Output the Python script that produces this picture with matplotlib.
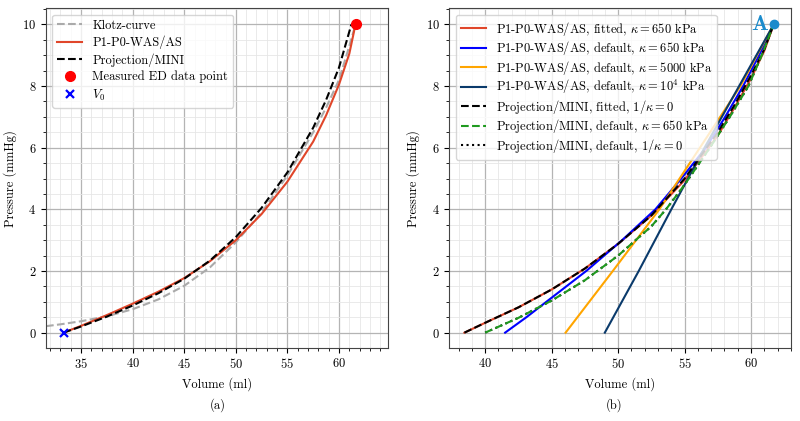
import numpy as np
import matplotlib
matplotlib.use("Agg")
import matplotlib.pyplot as plt
from matplotlib.ticker import MultipleLocator

plt.rcParams["font.family"] = "serif"
plt.rcParams["font.serif"] = ["cmr10", "DejaVu Serif"]
plt.rcParams["mathtext.fontset"] = "cm"
plt.rcParams["axes.formatter.use_mathtext"] = True
plt.rcParams["font.size"] = 9

# %% data, panel (a)
klotz_v = [31.6, 33.0, 35.0, 37.5, 40.0, 42.5, 45.0, 47.5, 50.0, 52.5, 55.0, 57.5, 58.75, 60.0, 61.0, 61.6]
klotz_p = [0.21, 0.27, 0.37, 0.53, 0.76, 1.08, 1.52, 2.12, 2.93, 3.9, 5.1, 6.5, 7.3, 8.2, 9.3, 10.0]

p1p0_v = [33.3, 35.0, 37.5, 40.0, 42.5, 45.0, 47.5, 50.0, 52.5, 55.0, 57.5, 58.75, 60.0, 61.0, 61.6]
p1p0_p = [0.0, 0.22, 0.57, 0.94, 1.33, 1.77, 2.32, 3.0, 3.85, 4.9, 6.2, 7.05, 8.05, 9.05, 10.0]

mini_v = [33.3, 35.0, 37.5, 40.0, 42.5, 45.0, 47.5, 50.0, 52.5, 55.0, 57.5, 58.75, 60.0, 61.2]
mini_p = [0.0, 0.2, 0.52, 0.88, 1.28, 1.75, 2.34, 3.1, 4.05, 5.2, 6.65, 7.55, 8.6, 10.0]

ed_point = (61.6, 10.0)
v0_point = (33.3, 0.0)

# %% data, panel (b)
fit_red_v = [38.44, 40.0, 42.5, 45.0, 47.5, 50.0, 52.5, 55.0, 57.5, 58.75, 60.0, 61.0, 61.7]
fit_red_p = [0.0, 0.32, 0.82, 1.4, 2.08, 2.88, 3.8, 4.95, 6.4, 7.3, 8.25, 9.15, 10.0]

def_blue_v = [41.5, 43.1, 44.6, 47.6, 50.3, 52.8, 54.75, 56.6, 58.05, 59.4, 60.6, 61.7]
def_blue_p = [0.0, 0.5, 1.0, 2.0, 3.0, 4.0, 5.0, 6.0, 7.0, 8.0, 9.0, 10.0]

def_orange_v = [46.05, 49.6, 53.1, 56.15, 59.2, 61.7]
def_orange_p = [0.0, 2.0, 4.0, 6.0, 8.0, 10.0]

def_navy_v = [49.0, 51.55, 54.0, 56.5, 59.1, 61.7]
def_navy_p = [0.0, 2.0, 4.0, 6.0, 8.0, 10.0]

fit_mini_v = [38.44, 40.0, 42.5, 45.0, 47.5, 50.0, 52.5, 55.0, 57.5, 58.75, 60.0, 61.0, 61.7]
fit_mini_p = [0.0, 0.32, 0.82, 1.4, 2.08, 2.88, 3.8, 5.0, 6.5, 7.38, 8.35, 9.2, 10.0]

def_green_v = [40.0, 42.5, 45.0, 47.5, 50.0, 52.5, 53.6, 55.0, 56.9, 58.4, 59.8, 60.8, 61.7]
def_green_p = [0.0, 0.48, 1.04, 1.7, 2.5, 3.45, 4.0, 4.8, 6.0, 7.0, 8.0, 9.0, 10.0]

def_dot_v = [40.0, 42.5, 45.0, 47.5, 50.0, 52.5, 53.6, 55.0, 56.9, 58.4, 59.8, 60.8, 61.7]
def_dot_p = [0.0, 0.48, 1.04, 1.7, 2.5, 3.45, 4.0, 4.8, 6.0, 7.0, 8.0, 9.0, 10.0]

point_a = (61.7, 10.0)

red = "#e0462a"


def style_axes(ax):
    ax.xaxis.set_major_locator(MultipleLocator(5))
    ax.xaxis.set_minor_locator(MultipleLocator(1))
    ax.yaxis.set_major_locator(MultipleLocator(2))
    ax.yaxis.set_minor_locator(MultipleLocator(0.5))
    ax.grid(which="major", color="#b4b4b4", linewidth=0.9)
    ax.grid(which="minor", color="#e6e6e6", linewidth=0.6)
    ax.set_axisbelow(True)
    for s in ax.spines.values():
        s.set_color("#444444")
    ax.set_xlabel("Volume (ml)")
    ax.set_ylabel("Pressure (mmHg)")
    ax.set_ylim(-0.49, 10.52)


fig = plt.figure(figsize=(8, 4.21), dpi=100)
ax1 = fig.add_axes([0.0575, 0.174, 0.4275, 0.806])
ax2 = fig.add_axes([0.5616, 0.174, 0.4271, 0.806])

# %% panel (a)
ax1.plot(klotz_v, klotz_p, "--", color="#aaaaaa", lw=1.5, label="Klotz-curve")
ax1.plot(p1p0_v, p1p0_p, "-", color=red, lw=1.5, label="P1-P0-WAS/AS")
ax1.plot(mini_v, mini_p, "--", color="black", lw=1.5, label="Projection/MINI")
ax1.plot(*ed_point, "o", color="red", ms=7, label="Measured ED data point", zorder=5)
ax1.plot(*v0_point, "x", color="blue", ms=6, mew=1.6, label="$V_0$", zorder=5)
style_axes(ax1)
ax1.set_xlim(31.6, 64.75)
ax1.legend(loc="upper left", labelspacing=0.32)

# %% panel (b)
ax2.plot(fit_red_v, fit_red_p, "-", color=red, lw=1.5,
         label=r"P1-P0-WAS/AS, fitted, $\kappa = 650$ kPa")
ax2.plot(def_blue_v, def_blue_p, "-", color="blue", lw=1.5,
         label=r"P1-P0-WAS/AS, default, $\kappa = 650$ kPa")
ax2.plot(def_orange_v, def_orange_p, "-", color="orange", lw=1.5,
         label=r"P1-P0-WAS/AS, default, $\kappa = 5000$ kPa")
ax2.plot(def_navy_v, def_navy_p, "-", color="#0a3a6b", lw=1.5,
         label=r"P1-P0-WAS/AS, default, $\kappa = 10^4$ kPa")
ax2.plot(fit_mini_v, fit_mini_p, "--", color="black", lw=1.5,
         label=r"Projection/MINI, fitted, $1/\kappa = 0$")
ax2.plot(def_green_v, def_green_p, "--", color="#1f9a1f", lw=1.5, zorder=3,
         label=r"Projection/MINI, default, $\kappa = 650$ kPa")
ax2.plot(def_dot_v, def_dot_p, ":", color="black", lw=1.5, zorder=2,
         label=r"Projection/MINI, default, $1/\kappa = 0$")
ax2.plot(*point_a, "o", color="#1a8bcc", ms=6, zorder=5)
ax2.text(point_a[0] - 0.35, point_a[1], r"$\mathbf{A}$", color="#1a8bcc", fontsize=16,
         ha="right", va="center")
style_axes(ax2)
ax2.set_xlim(37.3, 63.0)
ax2.legend(loc="upper left", labelspacing=0.12)

fig.text(0.272, 0.038, "(a)", ha="center", va="center")
fig.text(0.767, 0.038, "(b)", ha="center", va="center")

fig.savefig("out.png", dpi=100)
